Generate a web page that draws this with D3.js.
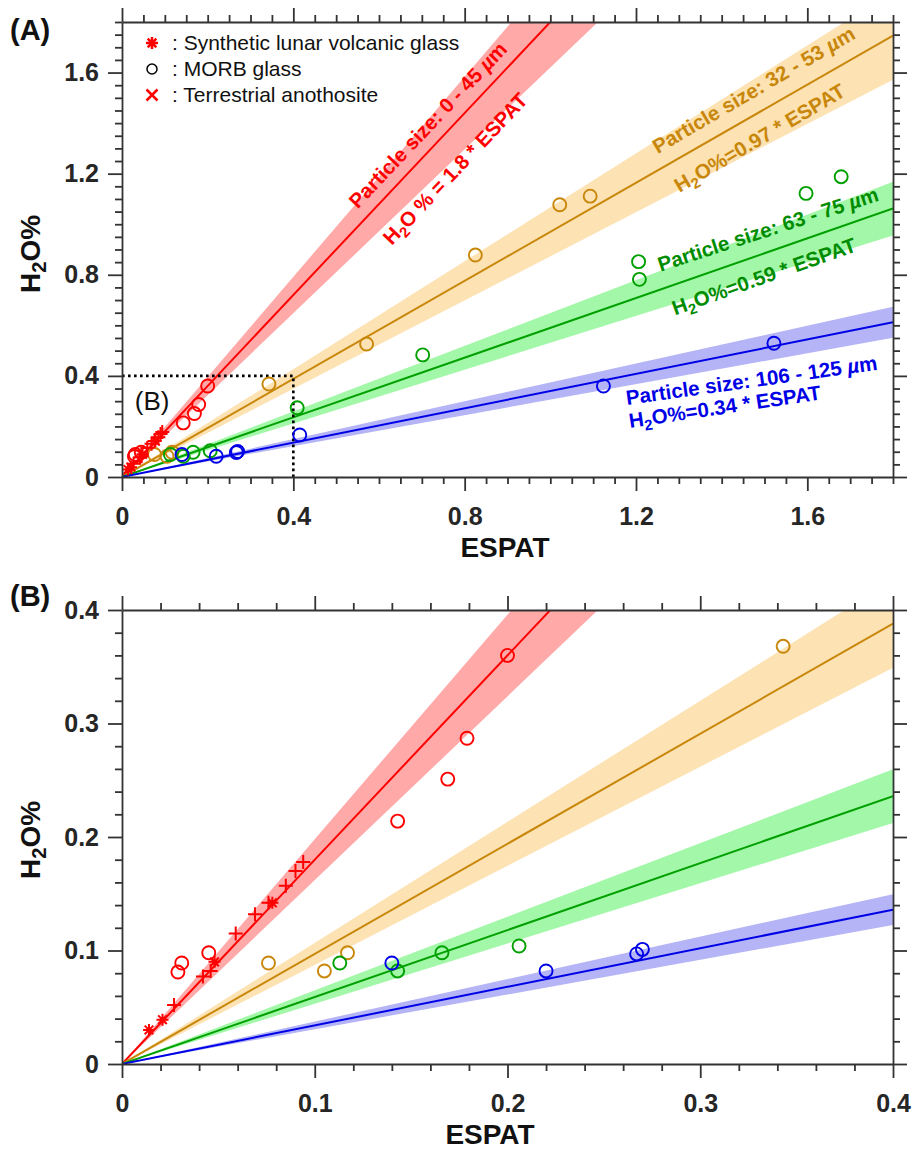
<!DOCTYPE html>
<html>
<head>
<meta charset="utf-8">
<script src="https://cdn.jsdelivr.net/npm/d3@7"></script>
<style>
  body { margin: 0; background: #fff; }
  svg { display: block; }
  text { font-family: "Liberation Sans", Arial, Helvetica, sans-serif; }
</style>
</head>
<body>
<div id="chart"></div>
<script>
// fitted lines: H2O% = slope * ESPAT, shaded band = +-10 %
const sizes = ["0 - 45", "32 - 53", "63 - 75", "106 - 125"];
const slopes = [1.8, 0.97, 0.59, 0.34];
const bandLow = [1.62, 0.873, 0.531, 0.306];
const bandHigh = [1.98, 1.067, 0.649, 0.374];

// MORB glass (circles), one list per particle size
const morb0_45 = [[0.029, 0.081], [0.031, 0.089], [0.045, 0.098], [0.143, 0.214], [0.169, 0.251], [0.179, 0.287], [0.200, 0.360]];
const morb32_53 = [[0.076, 0.089], [0.105, 0.082], [0.117, 0.098], [0.343, 0.368], [0.571, 0.526], [0.825, 0.878], [1.022, 1.077], [1.093, 1.111]];
const morb63_75 = [[0.113, 0.089], [0.143, 0.082], [0.166, 0.098], [0.206, 0.104], [0.409, 0.274], [0.702, 0.483], [1.206, 0.852], [1.208, 0.782], [1.597, 1.122], [1.679, 1.188]];
const morb106_125 = [[0.140, 0.089], [0.220, 0.082], [0.267, 0.097], [0.270, 0.101], [0.415, 0.166], [1.124, 0.360], [1.522, 0.529]];

// synthetic lunar volcanic glass (asterisks) and terrestrial anorthosite (crosses), 0-45 um
const lunarGlass = [[0.014, 0.030], [0.021, 0.039], [0.048, 0.090], [0.078, 0.142]];
const anorthosite = [[0.027, 0.052], [0.042, 0.077], [0.046, 0.082], [0.059, 0.115], [0.069, 0.132], [0.076, 0.142], [0.085, 0.157], [0.090, 0.170], [0.094, 0.178]];

const xTicksA = [0, 0.4, 0.8, 1.2, 1.6];
const yTicksA = [0, 0.4, 0.8, 1.2, 1.6];
const xTicksB = [0, 0.1, 0.2, 0.3, 0.4];
const yTicksB = [0, 0.1, 0.2, 0.3, 0.4];

const legendLabels = ["Synthetic lunar volcanic glass", "MORB glass", "Terrestrial anothosite"];

const lineColors = ["#ff0000", "#c8870a", "#00a000", "#0000e6"];
const bandColors = ["#ffa9a9", "#fde2b3", "#a3f7a8", "#b4b4f6"];
const textColors = ["#ff0000", "#c8870a", "#008c00", "#0000e6"];
const axisColor = "#333";

const W = 913, H = 1169;
const svg = d3.select("#chart").append("svg").attr("width", W).attr("height", H);

// H2O with subscript 2
function h2o(text, rest) {
    text.append("tspan").text("H");
    text.append("tspan").attr("font-size", "0.72em").attr("dy", "0.32em").text("2");
    text.append("tspan").attr("dy", "-0.23em").text("O" + rest);
}

function asterisk(a) {
    const d = a * 0.72;
    return `M0,${-a}V${a}M${-a},0H${a}M${-d},${-d}L${d},${d}M${-d},${d}L${d},${-d}`;
}
function plus(a) { return `M0,${-a}V${a}M${-a},0H${a}`; }
function cross(a) { return `M${-a},${-a}L${a},${a}M${-a},${a}L${a},${-a}`; }

function drawPanel(cfg) {
    const x = d3.scaleLinear().domain([0, cfg.xmax]).range([cfg.left, cfg.right]);
    const y = d3.scaleLinear().domain([0, cfg.ymax]).range([cfg.bottom, cfg.top]);
    const g = svg.append("g");

    const clipId = "clip" + cfg.name;
    g.append("clipPath").attr("id", clipId)
        .append("rect")
        .attr("x", cfg.left).attr("y", cfg.top)
        .attr("width", cfg.right - cfg.left).attr("height", cfg.bottom - cfg.top);
    const plot = g.append("g").attr("clip-path", `url(#${clipId})`);

    // bands
    slopes.forEach((s, i) => {
        plot.append("path")
            .attr("fill", bandColors[i])
            .attr("d", d3.line()([
                [x(0), y(0)], [x(cfg.xmax), y(bandHigh[i] * cfg.xmax)], [x(cfg.xmax), y(bandLow[i] * cfg.xmax)]
            ]) + "Z");
    });
    // fit lines
    slopes.forEach((s, i) => {
        plot.append("line")
            .attr("x1", x(0)).attr("y1", y(0))
            .attr("x2", x(cfg.xmax)).attr("y2", y(s * cfg.xmax))
            .attr("stroke", lineColors[i]).attr("stroke-width", 2);
    });

    if (cfg.name === "A") {
        plot.append("path")
            .attr("d", d3.line()([[x(0), y(0.4)], [x(0.4), y(0.4)], [x(0.4), y(0)]]))
            .attr("fill", "none").attr("stroke", "#000")
            .attr("stroke-width", 2.6).attr("stroke-dasharray", "2.6,3.4");
        g.append("text")
            .attr("x", x(0.03)).attr("y", y(0.265))
            .attr("font-size", 26).attr("fill", "#111").text("(B)");
    }

    // markers
    [morb0_45, morb32_53, morb63_75, morb106_125].forEach((pts, i) => {
        plot.append("g").selectAll("circle").data(pts).join("circle")
            .attr("cx", d => x(d[0])).attr("cy", d => y(d[1]))
            .attr("r", 6.5).attr("fill", "none")
            .attr("stroke", lineColors[i]).attr("stroke-width", 1.9);
    });
    plot.append("g").selectAll("path").data(anorthosite).join("path")
        .attr("transform", d => `translate(${x(d[0])},${y(d[1])})`)
        .attr("d", plus(7)).attr("stroke", "#ff0000").attr("stroke-width", 2).attr("fill", "none");
    plot.append("g").selectAll("path").data(lunarGlass).join("path")
        .attr("transform", d => `translate(${x(d[0])},${y(d[1])})`)
        .attr("d", asterisk(6)).attr("stroke", "#ff0000").attr("stroke-width", 2).attr("fill", "none");

    // axes, ticks outside on all four sides
    const minX = d3.range(0, cfg.xmax + 1e-9, cfg.minorX).filter(v => !cfg.xTicks.some(t => Math.abs(t - v) < 1e-9));
    const minY = d3.range(0, cfg.ymax + 1e-9, cfg.minorY).filter(v => !cfg.yTicks.some(t => Math.abs(t - v) < 1e-9));
    const majX = d3.range(0, cfg.xmax + 1e-9, cfg.xTicks[1]);
    const majY = d3.range(0, cfg.ymax + 1e-9, cfg.yTicks[1]);
    const fmt = ticks => (d => ticks.includes(+d.toFixed(2)) ? d3.format("~g")(+d.toFixed(2)) : "");

    const axes = [
        [d3.axisBottom(x), cfg.bottom, "x", true],
        [d3.axisTop(x), cfg.top, "x", false],
        [d3.axisLeft(y), cfg.left, "y", true],
        [d3.axisRight(y), cfg.right, "y", false]
    ];
    axes.forEach(([ax, pos, dir, labelled]) => {
        const tr = dir === "x" ? `translate(0,${pos})` : `translate(${pos},0)`;
        const major = g.append("g").attr("transform", tr)
            .call(ax.tickValues(dir === "x" ? majX : majY).tickSize(14).tickSizeOuter(0).tickPadding(dir === "x" ? 16 : 9)
                .tickFormat(labelled ? fmt(dir === "x" ? cfg.xTicks : cfg.yTicks) : () => ""));
        major.selectAll("text").attr("font-size", 25).attr("font-weight", "bold").attr("fill", "#262626")
            .style("font-family", '"Liberation Sans", Arial, sans-serif');
        major.selectAll("line").attr("stroke", axisColor).attr("stroke-width", 1.8);
        major.select(".domain").attr("stroke", axisColor).attr("stroke-width", 1.8);
        const minor = g.append("g").attr("transform", tr)
            .call(ax.tickValues(dir === "x" ? minX : minY).tickSize(7).tickSizeOuter(0).tickFormat(() => ""));
        minor.selectAll("line").attr("stroke", axisColor).attr("stroke-width", 1.8);
        minor.select(".domain").remove();
    });

    // axis titles
    g.append("text")
        .attr("x", cfg.xTitleX).attr("y", cfg.bottom + 80)
        .attr("text-anchor", "middle").attr("font-size", 28).attr("font-weight", "bold").attr("fill", "#111")
        .text("ESPAT");
    const yt = g.append("text")
        .attr("transform", `translate(40,${cfg.yTitleY}) rotate(-90)`)
        .attr("text-anchor", "middle").attr("font-size", 28).attr("font-weight", "bold").attr("fill", "#111");
    h2o(yt, "%");

    // panel letter
    g.append("text")
        .attr("x", 10).attr("y", cfg.letterY)
        .attr("font-size", 29).attr("font-weight", "bold").attr("fill", "#111")
        .text(`(${cfg.name})`);

    return { x, y, g };
}

const A = drawPanel({
    name: "A", left: 122, right: 893, top: 22, bottom: 477,
    xmax: 1.8, ymax: 1.8, xTicks: xTicksA, yTicks: yTicksA, minorX: 0.05, minorY: 0.05,
    xTitleX: 505, yTitleY: 254, letterY: 40
});
const B = drawPanel({
    name: "B", left: 122, right: 893, top: 610, bottom: 1064,
    xmax: 0.4, ymax: 0.4, xTicks: xTicksB, yTicks: yTicksB, minorX: 0.02, minorY: 0.02,
    xTitleX: 490, yTitleY: 840, letterY: 606
});

// legend in panel A
const legend = A.g.append("g");
const legendMarks = [asterisk(6), null, cross(5.5)];
legendLabels.forEach((lab, i) => {
    const yy = 50 + i * 26;
    if (i === 1) {
        legend.append("circle").attr("cx", 152).attr("cy", yy - 7).attr("r", 5)
            .attr("fill", "none").attr("stroke", "#000").attr("stroke-width", 1.5);
    } else {
        legend.append("path").attr("transform", `translate(152,${yy - 7})`)
            .attr("d", legendMarks[i]).attr("stroke", "#ff0000").attr("stroke-width", 2.5).attr("fill", "none");
    }
    legend.append("text").attr("x", 172).attr("y", yy)
        .attr("font-size", 21).attr("fill", "#111").text(": " + lab);
});

// fit annotations in panel A (anchor in data units, angle in degrees)
const annotations = [
    { i: 0, x: 0.726, y: 1.373, angle: -46.6, anchor: "middle" },
    { i: 1, x: 1.483, y: 1.507, angle: -30.3, anchor: "middle" },
    { i: 2, x: 1.513, y: 0.953, angle: -18, anchor: "middle" },
    { i: 3, x: 1.179, y: 0.285, angle: -8, anchor: "start" }
];
const formulas = [
    { i: 0, x: 0.79, y: 1.2, angle: -46.6, anchor: "middle", text: " % = 1.8 * ESPAT" },
    { i: 1, x: 1.497, y: 1.317, angle: -30.3, anchor: "middle", text: "%=0.97 * ESPAT" },
    { i: 2, x: 1.504, y: 0.767, angle: -19.5, anchor: "middle", text: "%=0.59 * ESPAT" },
    { i: 3, x: 1.186, y: 0.194, angle: -8.5, anchor: "start", text: "%=0.34 * ESPAT" }
];
annotations.forEach(a => {
    const t = A.g.append("text")
        .attr("transform", `translate(${A.x(a.x)},${A.y(a.y)}) rotate(${a.angle})`)
        .attr("text-anchor", a.anchor).attr("font-size", 20.5).attr("font-weight", "bold")
        .attr("fill", textColors[a.i]);
    t.append("tspan").text(`Particle size: ${sizes[a.i]} `);
    t.append("tspan").attr("font-style", "italic").text("\u00b5");
    t.append("tspan").text("m");
});
formulas.forEach(f => {
    const t = A.g.append("text")
        .attr("transform", `translate(${A.x(f.x)},${A.y(f.y)}) rotate(${f.angle})`)
        .attr("text-anchor", f.anchor).attr("font-size", 20.5).attr("font-weight", "bold")
        .attr("fill", textColors[f.i]);
    h2o(t, f.text);
});
</script>
</body>
</html>
